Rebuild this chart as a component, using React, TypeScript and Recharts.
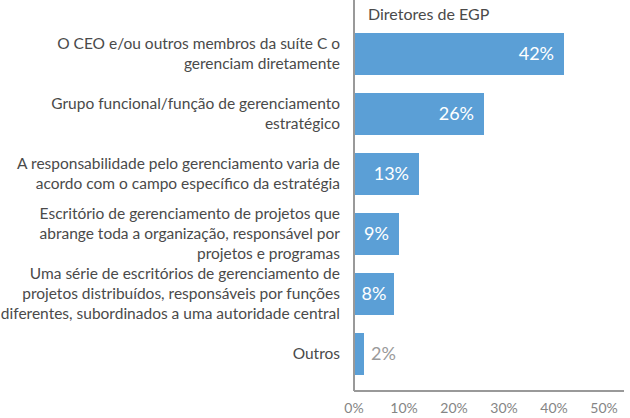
import React from 'react';
import { BarChart, Bar, XAxis, YAxis, LabelList } from 'recharts';

const categories = [
  'O CEO e/ou outros membros da suíte C o\ngerenciam diretamente',
  'Grupo funcional/função de gerenciamento\nestratégico',
  'A responsabilidade pelo gerenciamento varia de\nacordo com o campo específico da estratégia',
  'Escritório de gerenciamento de projetos que\nabrange toda a organização, responsável por\nprojetos e programas',
  'Uma série de escritórios de gerenciamento de\nprojetos distribuídos, responsáveis por funções\ndiferentes, subordinados a uma autoridade central',
  'Outros',
];
const values = [42, 26, 13, 9, 8, 2];
const xTicks = [0, 10, 20, 30, 40, 50];
const seriesName = 'Diretores de EGP';

const data = categories.map((name, i) => ({ name, value: values[i] }));

const FONT = 'Lato, "Open Sans", sans-serif';

function CategoryTick(props: any) {
  const { x, y, payload } = props;
  const lines: string[] = String(payload.value).split('\n');
  const lh = 20;
  const start = y - ((lines.length - 1) * lh) / 2;
  return (
    <text x={x} y={start} textAnchor="end" fill="#4a4a4a" fontSize={15.5} fontFamily={FONT}>
      {lines.map((l, i) => (
        <tspan key={i} x={x} y={start + i * lh} dy="0.35em">
          {l}
        </tspan>
      ))}
    </text>
  );
}

function ValueLabel(props: any) {
  const { x, y, width, height, value } = props;
  const cy = y + height / 2;
  const text = `${value}%`;
  if (width < 20) {
    return (
      <text x={x + width + 7} y={cy} dy="0.35em" textAnchor="start" fill="#9a9a9a" fontSize={18} fontFamily={FONT}>
        {text}
      </text>
    );
  }
  if (width > 60) {
    return (
      <text x={x + width - 10} y={cy} dy="0.35em" textAnchor="end" fill="#ffffff" fontSize={18} fontFamily={FONT}>
        {text}
      </text>
    );
  }
  return (
    <text x={x + width / 2} y={cy} dy="0.35em" textAnchor="middle" fill="#ffffff" fontSize={18} fontFamily={FONT}>
      {text}
    </text>
  );
}

export default function App() {
  return (
    <div style={{ position: 'absolute', left: 0, top: 0, width: 630, height: 418, background: '#fff', fontFamily: FONT }}>
      <BarChart
        width={630}
        height={418}
        data={data}
        layout="vertical"
        margin={{ top: 0, right: 6, bottom: 0, left: 0 }}
      >
        <XAxis
          type="number"
          domain={[0, 54]}
          ticks={xTicks}
          tickFormatter={(v: number) => `${v}%`}
          axisLine={{ stroke: '#999999', strokeWidth: 2 }}
          tickLine={false}
          tickMargin={6}
          height={27}
          tick={{ fill: '#858585', fontSize: 14, fontFamily: FONT }}
        />
        <YAxis
          type="category"
          dataKey="name"
          width={354}
          interval={0}
          axisLine={{ stroke: '#999999', strokeWidth: 2 }}
          tickLine={false}
          tickMargin={8}
          padding={{ top: 24, bottom: 7 }}
          tick={<CategoryTick />}
        />
        <Bar dataKey="value" fill="#5b9fd6" barSize={42} isAnimationActive={false}>
          <LabelList dataKey="value" content={<ValueLabel />} />
        </Bar>
      </BarChart>
      <div
        style={{
          position: 'absolute',
          left: 368,
          top: 4,
          fontSize: 16,
          color: '#4a4a4a',
          fontFamily: FONT,
          lineHeight: '20px',
          whiteSpace: 'nowrap',
        }}
      >
        {seriesName}
      </div>
    </div>
  );
}
